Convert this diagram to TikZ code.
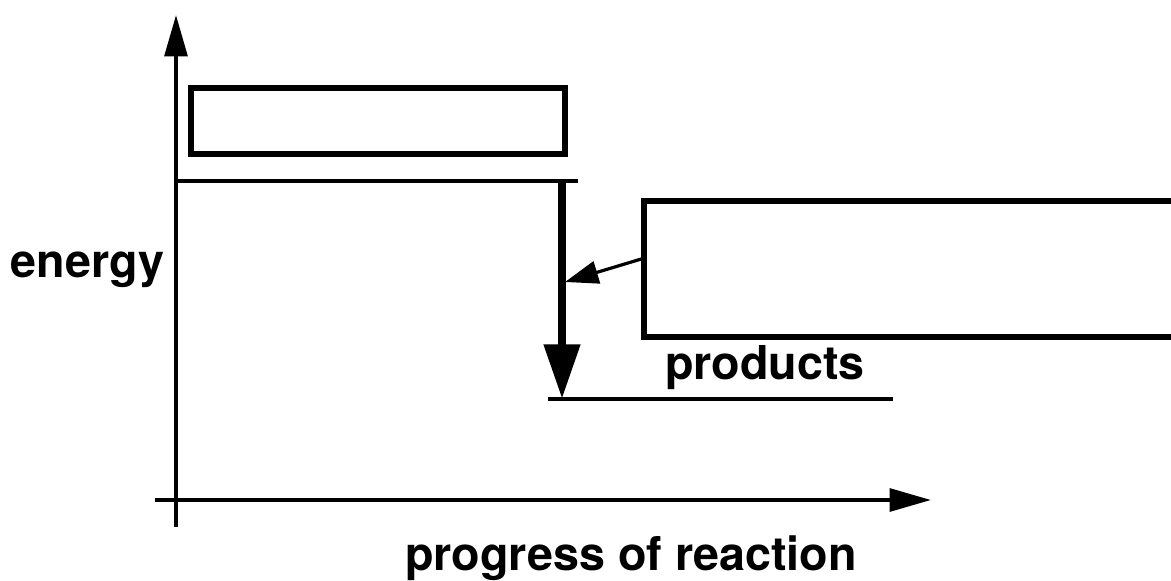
\documentclass[tikz,border=0pt]{standalone}
\usepackage{fontspec}
\setmainfont{TeX Gyre Heros}
\usetikzlibrary{arrows.meta}

\tikzset{every picture/.style={line width=0.75pt}}
\tikzset{
  lbl/.style={font=\fontsize{35}{42}\selectfont\bfseries, inner sep=0pt, anchor=base},
  emptybox/.style={draw, line width=4.6pt, inner sep=0pt},
  level/.style={line width=2.4pt},
  axis/.style={line width=3pt, -{Triangle[length=31pt,width=17pt]}},
}

\begin{document}
\begin{tikzpicture}[x=0.75pt,y=0.75pt,yscale=-1,xscale=1]
\useasboundingbox (0,0) rectangle (1171,581);
\clip (0,0) rectangle (1171,581);

%Axes
\coordinate (yfoot) at (176,527);
\coordinate (ytip) at (176,15);
\coordinate (xfoot) at (155,500);
\coordinate (xtip) at (931,500);
\draw [axis] (yfoot) -- (ytip);
\draw [axis] (xfoot) -- (xtip);

%Shape: Rectangle (reactants box)
\node [emptybox, minimum width=280pt, minimum height=50pt] (tbox) at (378,121) {};
%Shape: Rectangle (right box, runs off the page)
\node [emptybox, minimum width=409pt, minimum height=102pt] (rbox) at (917,269) {};

%Straight Lines (energy levels)
\coordinate (rleft) at (176,181);
\coordinate (rright) at (578,181);
\coordinate (pleft) at (548,399);
\coordinate (pright) at (893,399);
\draw [level] (rleft) -- (rright);
\draw [level] (pleft) -- (pright);

%Straight Lines (energy drop)
\coordinate (dtop) at (562,181);
\coordinate (dbot) at (562,399);
\draw [line width=6.5pt, -{Triangle[length=41pt,width=26pt]}] (dtop) -- (dbot);

%Straight Lines (pointer)
\coordinate (hit) at (565,282);
\draw [line width=2.4pt, -{Triangle[length=25pt,width=17pt]}] ([yshift=-7.5pt]rbox.west) -- (hit);

% Text Node
\node [lbl] (energy) at (87.5,277) {energy};
% Text Node
\node [lbl] (products) at (765,379) {products};
% Text Node
\node [lbl] (progress) at (631,570) {progress of reaction};

\end{tikzpicture}
\end{document}
